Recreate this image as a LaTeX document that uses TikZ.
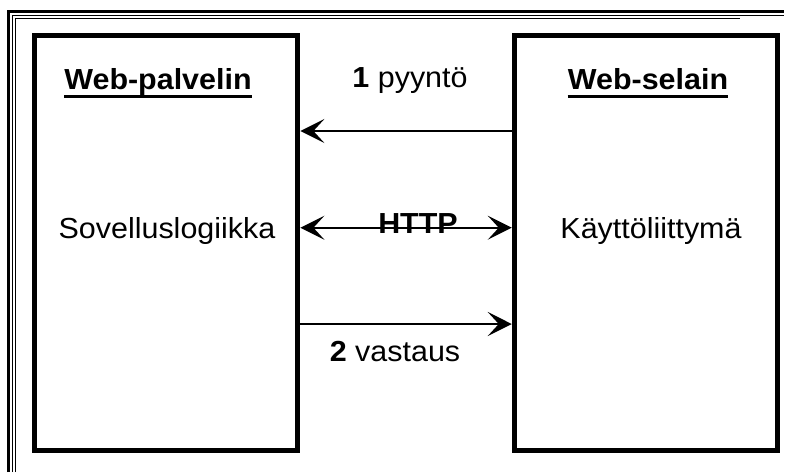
\documentclass[tikz,border=0pt]{standalone}
\usepackage{fontspec}
\setmainfont{Liberation Sans}
\usetikzlibrary{arrows.meta}
\newcommand\wx[1]{\scalebox{1.05}[1]{#1}}
\tikzset{
  box/.style={draw, line width=5pt, inner sep=0pt, minimum width=263pt, minimum height=414.7pt},
  lbl/.style={anchor=base, inner sep=0pt, font=\fontsize{29}{33}\selectfont},
  tip/.style={},
  arr/.style={line width=2pt, -{Stealth[length=24pt, width=24pt, inset=11pt]}},
  darr/.style={line width=2pt, {Stealth[length=24pt, width=24pt, inset=11pt]}-{Stealth[length=24pt, width=24pt, inset=11pt]}}
}
\begin{document}
\begin{tikzpicture}[x=1pt,y=-1pt]
\useasboundingbox (0,0) rectangle (794,472);
% frame
\draw[line width=2.6pt] (8.3,472) -- (8.3,11.3) -- (784,11.3);
\draw[line width=1.2pt] (12.3,472) -- (12.3,15.7) -- (784,15.7);
\draw[line width=1.3pt] (15.3,472) -- (15.3,18.4) -- (740,18.4);
% boxes
\node[box] (lbox) at (166.4,243.15) {};
\node[box] (rbox) at (645.75,243.15) {};
% labels
\node[lbl] (wp) at (158,89) {\wx{\bfseries Web-palvelin}};
\node[lbl] (ws) at (648,89) {\wx{\bfseries Web-selain}};
\draw[line width=3pt] ([yshift=-7.5pt]wp.base west) -- ([yshift=-7.5pt]wp.base east);
\draw[line width=3pt] ([yshift=-7.5pt]ws.base west) -- ([yshift=-7.5pt]ws.base east);
\node[lbl] (sl) at (167,238) {\wx{Sovelluslogiikka}};
\node[lbl] (ka) at (651,238) {\wx{Käyttöliittymä}};
\node[lbl] (p1) at (410,87) {\wx{\textbf{1} pyyntö}};
\node[lbl] (v2) at (395,361) {\wx{\textbf{2} vastaus}};
% arrows
\coordinate (y1) at (0,131);
\coordinate (y2) at (0,227.7);
\coordinate (y3) at (0,324);
\draw[arr] (rbox.west |- y1) -- (lbox.east |- y1);
\draw[darr] (lbox.east |- y2) -- (rbox.west |- y2);
\draw[arr] (lbox.east |- y3) -- (rbox.west |- y3);
\node[lbl] (http) at (418,233) {\wx{\bfseries HTTP}};
\end{tikzpicture}
\end{document}
